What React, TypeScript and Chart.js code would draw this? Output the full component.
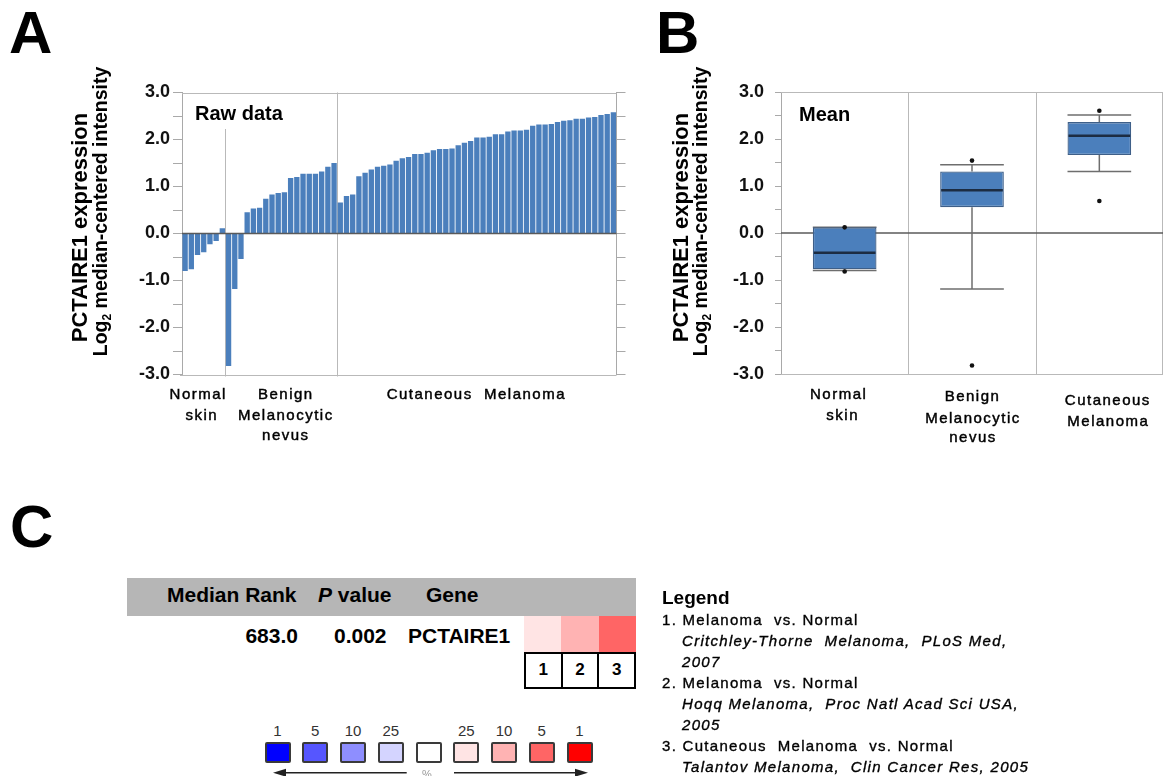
import React, { useEffect, useRef } from 'react';
import { Chart, registerables } from 'chart.js';

Chart.register(...registerables);

const FONT = '"Liberation Sans", Arial, Helvetica, sans-serif';

/* ---------------- Panel A : raw data ---------------- */
const normalSkin = [-0.8, -0.76, -0.46, -0.4, -0.23, -0.16, 0.11];
const benignNevus = [-2.82, -1.18, -0.54, 0.45, 0.53, 0.55, 0.74, 0.83, 0.86, 0.88, 1.18, 1.2, 1.27, 1.27, 1.27, 1.32, 1.42, 1.5];
const cutaneousMelanoma = [
  0.66, 0.8, 0.83, 1.22, 1.29, 1.36, 1.42, 1.44, 1.47, 1.55, 1.6, 1.63, 1.69, 1.69, 1.72,
  1.77, 1.8, 1.8, 1.81, 1.88, 1.93, 1.97, 2.04, 2.04, 2.06, 2.11, 2.11, 2.17, 2.19, 2.19,
  2.21, 2.29, 2.32, 2.32, 2.33, 2.37, 2.4, 2.41, 2.44, 2.44, 2.47, 2.48, 2.52, 2.54, 2.58,
];
const rawValues = [...normalSkin, ...benignNevus, ...cutaneousMelanoma];
const rawCategories = rawValues.map((_, i) => `S${i + 1}`);
const rawGroupSizes = [normalSkin.length, benignNevus.length, cutaneousMelanoma.length];
const rawGroupLabels = [['Normal', 'skin'], ['Benign', 'Melanocytic', 'nevus'], ['Cutaneous  Melanoma']];
const rawPanelLabel = 'Raw data';

const Y_MIN = -3;
const Y_MAX = 3;
const Y_STEP = 0.5;

const titleLine1 = 'PCTAIRE1 expression';
const titleLine2 = ['Log', '2', ' median-centered intensity'];

/* ---------------- Panel B : box plot ---------------- */
const boxCategories = ['Normal skin', 'Benign Melanocytic nevus', 'Cutaneous Melanoma'];
const boxLabelLines = [['Normal', 'skin'], ['Benign', 'Melanocytic', 'nevus'], ['Cutaneous', 'Melanoma']];
const boxQ1 = [-0.77, 0.55, 1.66];
const boxQ3 = [0.12, 1.31, 2.36];
const boxMedian = [-0.42, 0.91, 2.07];
const whiskerLow = [-0.8, -1.19, 1.31];
const whiskerHigh = [0.12, 1.45, 2.51];
const extremeCategory = [0, 0, 1, 1, 2, 2];
const extremeValues = [0.12, -0.82, 1.54, -2.82, 2.6, 0.68];
const boxPanelLabel = 'Mean';

/* ---------------- Panel C : gene summary ---------------- */
const headerMedianRank = 'Median Rank';
const headerGene = 'Gene';
const geneName = 'PCTAIRE1';
const geneMedianRank = '683.0';
const genePValue = '0.002';
const analysisIds = ['1', '2', '3'];
const analysisPercentiles = [25, 10, 5];
const scaleLabels = ['1', '5', '10', '25', '', '25', '10', '5', '1'];
const scaleColors = ['#0000ff', '#5656ff', '#8e8eff', '#d4d4ff', '#ffffff', '#ffe4e4', '#ffb3b3', '#ff6565', '#ff0000'];
const overColors: Record<number, string> = { 1: '#ff0000', 5: '#ff6565', 10: '#ffb3b3', 25: '#ffe4e4' };
const legendTitle = 'Legend';
const legendComparisons = ['1. Melanoma  vs. Normal', '2. Melanoma  vs. Normal', '3. Cutaneous  Melanoma  vs. Normal'];
const legendCitations = [
  ['Critchley-Thorne  Melanoma,  PLoS Med,', '2007'],
  ['Hoqq Melanoma,  Proc Natl Acad Sci USA,', '2005'],
  ['Talantov Melanoma,  Clin Cancer Res, 2005'],
];

/* ---------------- helpers ---------------- */
function hline(ctx: CanvasRenderingContext2D, x1: number, x2: number, y: number) {
  ctx.beginPath();
  ctx.moveTo(x1, y);
  ctx.lineTo(x2, y);
  ctx.stroke();
}
function vline(ctx: CanvasRenderingContext2D, x: number, y1: number, y2: number) {
  ctx.beginPath();
  ctx.moveTo(x, y1);
  ctx.lineTo(x, y2);
  ctx.stroke();
}

function yAxis(o: { position: 'left' | 'right'; width: number; tickLength: number; padding: number; labels: boolean }) {
  return {
    type: 'linear',
    position: o.position,
    min: Y_MIN,
    max: Y_MAX,
    ticks: {
      stepSize: Y_STEP,
      autoSkip: false,
      display: o.labels,
      padding: o.padding,
      color: '#111',
      font: { family: FONT, size: 18, weight: 'bold' },
      callback: (v: number) => (Math.abs(v - Math.round(v)) < 1e-9 ? Number(v).toFixed(1) : ''),
    },
    grid: { drawOnChartArea: false, drawTicks: true, tickLength: o.tickLength, color: '#a9a9a9', lineWidth: 1 },
    border: { display: true, color: '#a9a9a9', width: 1 },
    afterFit: (s: any) => {
      s.width = o.width;
      s.paddingTop = 0;
      s.paddingBottom = 0;
      s.paddingLeft = 0;
      s.paddingRight = 0;
    },
  };
}

function titlePlugin(x1: number, x2: number) {
  return {
    id: 'axisTitles',
    afterDraw(chart: any) {
      const ctx: CanvasRenderingContext2D = chart.ctx;
      ctx.save();
      ctx.fillStyle = '#000';
      ctx.textBaseline = 'alphabetic';
      ctx.font = `bold 22px ${FONT}`;
      ctx.translate(x1, 227.5);
      ctx.rotate(-Math.PI / 2);
      ctx.textAlign = 'center';
      ctx.fillText(titleLine1, 0, 0);
      ctx.restore();

      ctx.save();
      ctx.fillStyle = '#000';
      ctx.textBaseline = 'alphabetic';
      ctx.textAlign = 'left';
      const mainFont = `bold 19.5px ${FONT}`;
      const subFont = `bold 12px ${FONT}`;
      ctx.font = mainFont;
      const w1 = ctx.measureText(titleLine2[0]).width;
      const w3 = ctx.measureText(titleLine2[2]).width;
      ctx.font = subFont;
      const w2 = ctx.measureText(titleLine2[1]).width;
      const start = -(w1 + w2 + w3) / 2;
      ctx.translate(x2, 211.5);
      ctx.rotate(-Math.PI / 2);
      ctx.font = mainFont;
      ctx.fillText(titleLine2[0], start, 0);
      ctx.font = subFont;
      ctx.fillText(titleLine2[1], start + w1, 4);
      ctx.font = mainFont;
      ctx.fillText(titleLine2[2], start + w1 + w2, 0);
      ctx.restore();
    },
  };
}

function drawCategoryText(ctx: CanvasRenderingContext2D, text: string, x: number, y: number) {
  ctx.save();
  ctx.font = `15px ${FONT}`;
  (ctx as any).letterSpacing = '1.5px';
  ctx.fillStyle = '#000';
  ctx.strokeStyle = '#000';
  ctx.lineWidth = 0.45;
  ctx.textAlign = 'center';
  ctx.textBaseline = 'alphabetic';
  ctx.fillText(text, x, y);
  ctx.strokeText(text, x, y);
  ctx.restore();
}

/* ---------------- Panel A chart ---------------- */
const rawLabelShift = [[-5.5, -2], [4.5, 4.5, 4.5], [-0.5]];
const rawLabelBaseline = [[398.5, 420], [398.5, 420, 439.5], [398.5]];

const rawPlugin = {
  id: 'rawPanel',
  beforeDatasetsDraw(chart: any) {
    const { ctx, chartArea: ca, scales } = chart;
    const x = scales.x;
    ctx.save();
    ctx.strokeStyle = '#b9b9b9';
    ctx.lineWidth = 1;
    hline(ctx, ca.left, ca.right, Math.round(ca.top) + 0.5);
    hline(ctx, ca.left - 2, ca.right, Math.round(ca.bottom) + 0.5);
    let idx = 0;
    rawGroupSizes.slice(0, -1).forEach((n, g) => {
      idx += n;
      const bx = (x.getPixelForValue(idx - 1) + x.getPixelForValue(idx)) / 2;
      vline(ctx, Math.round(bx) + 0.5, g === 0 ? ca.top + 36.5 : ca.top, ca.bottom + 2);
    });
    ctx.restore();
  },
  afterDatasetsDraw(chart: any) {
    const { ctx, chartArea: ca, scales } = chart;
    const x = scales.x;
    const y = scales.y;
    ctx.save();
    ctx.strokeStyle = '#5a5a5a';
    ctx.lineWidth = 1.3;
    hline(ctx, ca.left, ca.right, y.getPixelForValue(0));
    ctx.fillStyle = '#000';
    ctx.font = `bold 20px ${FONT}`;
    ctx.textAlign = 'left';
    ctx.textBaseline = 'alphabetic';
    ctx.fillText(rawPanelLabel, ca.left + 13, 120);
    ctx.restore();
    let start = 0;
    rawGroupSizes.forEach((n, g) => {
      const cx = (x.getPixelForValue(start) + x.getPixelForValue(start + n - 1)) / 2;
      rawGroupLabels[g].forEach((line, k) => {
        drawCategoryText(ctx, line, cx + rawLabelShift[g][k], rawLabelBaseline[g][k]);
      });
      start += n;
    });
  },
};

function makeRawConfig(): any {
  return {
    type: 'bar',
    data: {
      labels: rawCategories,
      datasets: [
        {
          data: rawValues,
          backgroundColor: '#4b7fbc',
          borderWidth: 0,
          barPercentage: 0.86,
          categoryPercentage: 1,
        },
      ],
    },
    options: {
      responsive: false,
      animation: false,
      devicePixelRatio: 1,
      layout: { padding: { left: 0, top: 92.5, right: 14.5, bottom: 85.5 } },
      plugins: { legend: { display: false }, tooltip: { enabled: false }, title: { display: false } },
      scales: {
        x: { display: false },
        y: yAxis({ position: 'left', width: 182, tickLength: 9, padding: 3, labels: true }),
        y2: yAxis({ position: 'right', width: 9, tickLength: 9, padding: 0, labels: false }),
      },
    },
    plugins: [rawPlugin, titlePlugin(87, 107)],
  };
}

/* ---------------- Panel B chart ---------------- */
const boxLabelShift = [[-6, -2], [0.5, 1, 1], [8.5, 9]];
const boxLabelBaseline = [[398.5, 419.5], [401, 422.5, 442], [404.5, 425.5]];

const boxPlugin = {
  id: 'boxPanel',
  beforeDatasetsDraw(chart: any) {
    const { ctx, chartArea: ca, scales } = chart;
    const x = scales.x;
    const y = scales.y;
    ctx.save();
    ctx.strokeStyle = '#b9b9b9';
    ctx.lineWidth = 1;
    hline(ctx, ca.left, ca.right, Math.round(ca.top) + 0.5);
    hline(ctx, ca.left, ca.right, Math.round(ca.bottom) + 0.5);
    vline(ctx, ca.right - 0.5, ca.top, ca.bottom);
    for (let i = 0; i < boxCategories.length - 1; i++) {
      const bx = (x.getPixelForValue(i) + x.getPixelForValue(i + 1)) / 2;
      vline(ctx, Math.round(bx) + 0.5, ca.top, ca.bottom);
    }
    ctx.strokeStyle = '#5a5a5a';
    ctx.lineWidth = 1.3;
    hline(ctx, ca.left, ca.right, y.getPixelForValue(0));

    const meta = chart.getDatasetMeta(0);
    ctx.strokeStyle = '#6e6e6e';
    ctx.lineWidth = 1.5;
    boxCategories.forEach((_, i) => {
      const el = meta.data[i];
      const cx = x.getPixelForValue(i);
      const half = el.width / 2;
      vline(ctx, cx, y.getPixelForValue(boxQ3[i]), y.getPixelForValue(whiskerHigh[i]));
      vline(ctx, cx, y.getPixelForValue(boxQ1[i]), y.getPixelForValue(whiskerLow[i]));
      hline(ctx, cx - half, cx + half, y.getPixelForValue(whiskerHigh[i]));
      hline(ctx, cx - half, cx + half, y.getPixelForValue(whiskerLow[i]));
    });
    ctx.restore();
  },
  afterDatasetsDraw(chart: any) {
    const { ctx, chartArea: ca, scales } = chart;
    const x = scales.x;
    const y = scales.y;
    const meta = chart.getDatasetMeta(0);
    ctx.save();
    ctx.strokeStyle = '#1c2c42';
    ctx.lineWidth = 2.5;
    boxCategories.forEach((_, i) => {
      const el = meta.data[i];
      const cx = x.getPixelForValue(i);
      const half = el.width / 2;
      hline(ctx, cx - half + 1, cx + half - 1, y.getPixelForValue(boxMedian[i]));
    });
    ctx.fillStyle = '#000';
    ctx.font = `bold 20px ${FONT}`;
    ctx.textAlign = 'left';
    ctx.textBaseline = 'alphabetic';
    ctx.fillText(boxPanelLabel, ca.left + 18, 121);
    ctx.restore();
    boxLabelLines.forEach((lines, g) => {
      const cx = x.getPixelForValue(g);
      lines.forEach((line, k) => drawCategoryText(ctx, line, cx + boxLabelShift[g][k], boxLabelBaseline[g][k]));
    });
  },
};

function makeBoxConfig(): any {
  return {
    type: 'bar',
    data: {
      labels: boxCategories,
      datasets: [
        {
          type: 'bar',
          data: boxCategories.map((_, i) => [boxQ1[i], boxQ3[i]]),
          backgroundColor: '#4b7fbc',
          borderColor: '#3e5f88',
          borderWidth: 1.3,
          borderSkipped: false,
          barPercentage: 0.5,
          categoryPercentage: 1,
          order: 1,
        },
        {
          type: 'line',
          data: extremeValues.map((v, i) => ({ x: boxCategories[extremeCategory[i]], y: v })),
          showLine: false,
          pointRadius: 2.3,
          pointBackgroundColor: '#111',
          pointBorderWidth: 0,
          order: 0,
        },
      ],
    },
    options: {
      responsive: false,
      animation: false,
      devicePixelRatio: 1,
      layout: { padding: { left: 0, top: 92, right: 1, bottom: 86 } },
      plugins: { legend: { display: false }, tooltip: { enabled: false }, title: { display: false } },
      scales: {
        x: { display: false },
        y: yAxis({ position: 'left', width: 141, tickLength: 6, padding: 11, labels: true }),
      },
    },
    plugins: [boxPlugin, titlePlugin(48, 67)],
  };
}

/* ---------------- React components ---------------- */
function ChartCanvas({ left, top, width, height, makeConfig }: { left: number; top: number; width: number; height: number; makeConfig: () => any }) {
  const ref = useRef<HTMLCanvasElement>(null);
  useEffect(() => {
    const chart = new Chart(ref.current as HTMLCanvasElement, makeConfig());
    return () => chart.destroy();
  }, []);
  return <canvas ref={ref} width={width} height={height} style={{ position: 'absolute', left, top, width, height }} />;
}

type TxtProps = {
  x: number;
  y: number;
  size: number;
  bold?: boolean;
  italic?: boolean;
  anchor?: 'start' | 'middle' | 'end';
  color?: string;
  spacing?: number;
  stroke?: number;
  children: React.ReactNode;
};
function Txt({ x, y, size, bold, italic, anchor = 'start', color = '#000', spacing = 0, stroke = 0, children }: TxtProps) {
  const tx = anchor === 'middle' ? 'translateX(-50%)' : anchor === 'end' ? 'translateX(-100%)' : undefined;
  return (
    <div
      style={{
        position: 'absolute',
        left: x,
        top: y - 0.8465 * size,
        fontSize: size,
        lineHeight: `${size}px`,
        fontWeight: bold ? 700 : 400,
        fontStyle: italic ? 'italic' : 'normal',
        letterSpacing: spacing,
        color,
        whiteSpace: 'pre',
        transform: tx,
        WebkitTextStroke: stroke ? `${stroke}px ${color}` : undefined,
      }}
    >
      {children}
    </div>
  );
}

const CELL = 37.33;
const CELL_X0 = 524;
const SCALE_X0 = 264.5;
const SCALE_STEP = 37.75;

export default function App() {
  const legendRows: { text: string; italic: boolean }[] = [];
  legendComparisons.forEach((c, i) => {
    legendRows.push({ text: c, italic: false });
    legendCitations[i].forEach((t) => legendRows.push({ text: t, italic: true }));
  });

  return (
    <div
      style={{
        position: 'absolute',
        left: 0,
        top: 0,
        width: 1167,
        height: 776,
        overflow: 'hidden',
        background: '#fff',
        fontFamily: FONT,
      }}
    >
      <ChartCanvas left={0} top={0} width={640} height={460} makeConfig={makeRawConfig} />
      <ChartCanvas left={640} top={0} width={527} height={460} makeConfig={makeBoxConfig} />

      <Txt x={9} y={54} size={60} bold>A</Txt>
      <Txt x={656} y={53.5} size={60} bold>B</Txt>
      <Txt x={10} y={547.5} size={60} bold>C</Txt>

      {/* Panel C table */}
      <div style={{ position: 'absolute', left: 127, top: 578, width: 509, height: 37.5, background: '#b6b6b6' }} />
      <Txt x={167} y={602} size={21} bold>{headerMedianRank}</Txt>
      <Txt x={318} y={602} size={21} bold>
        <i>P</i> value
      </Txt>
      <Txt x={426} y={602} size={21} bold>{headerGene}</Txt>
      <Txt x={298} y={643} size={21} bold anchor="end">{geneMedianRank}</Txt>
      <Txt x={334} y={643} size={21} bold>{genePValue}</Txt>
      <Txt x={408} y={643} size={21} bold>{geneName}</Txt>
      {analysisPercentiles.map((p, i) => (
        <div
          key={`heat${i}`}
          style={{ position: 'absolute', left: CELL_X0 + i * CELL, top: 615.5, width: CELL + 0.5, height: 36.5, background: overColors[p] }}
        />
      ))}
      <div
        style={{
          position: 'absolute',
          left: CELL_X0,
          top: 651.5,
          width: CELL * analysisIds.length,
          height: 37,
          border: '2px solid #000',
          boxSizing: 'border-box',
          display: 'flex',
          background: '#fff',
        }}
      >
        {analysisIds.map((id, i) => (
          <div
            key={`id${i}`}
            style={{
              flex: 1,
              borderLeft: i ? '2px solid #000' : 'none',
              display: 'flex',
              alignItems: 'center',
              justifyContent: 'center',
              fontWeight: 700,
              fontSize: 17,
            }}
          >
            {id}
          </div>
        ))}
      </div>

      {/* colour scale */}
      {scaleColors.map((c, i) => (
        <div
          key={`sq${i}`}
          style={{
            position: 'absolute',
            left: SCALE_X0 + i * SCALE_STEP,
            top: 742,
            width: 26,
            height: 21,
            background: c,
            border: '2px solid #3a3a3a',
            boxSizing: 'border-box',
            borderRadius: 2,
          }}
        />
      ))}
      {scaleLabels.map((l, i) =>
        l ? (
          <Txt key={`sl${i}`} x={SCALE_X0 + i * SCALE_STEP + 13} y={736} size={15} anchor="middle" color="#333">
            {l}
          </Txt>
        ) : null,
      )}
      <svg width={1167} height={776} style={{ position: 'absolute', left: 0, top: 0, pointerEvents: 'none' }}>
        <line x1={406.7} y1={772.7} x2={284} y2={772.7} stroke="#222" strokeWidth={1.6} />
        <polygon points="273,772.7 286,768.7 286,776.7" fill="#222" />
        <line x1={454} y1={772.7} x2={577} y2={772.7} stroke="#222" strokeWidth={1.6} />
        <polygon points="588,772.7 575,768.7 575,776.7" fill="#222" />
      </svg>
      <Txt x={427} y={778} size={11} anchor="middle" color="#999">%</Txt>

      {/* legend */}
      <Txt x={662} y={604} size={19} bold>{legendTitle}</Txt>
      {legendRows.map((r, k) => (
        <Txt key={`lg${k}`} x={r.italic ? 682 : 662} y={625 + k * 21} size={15} italic={r.italic} spacing={1.3} color="#000" stroke={0.35}>
          {r.text}
        </Txt>
      ))}
    </div>
  );
}
